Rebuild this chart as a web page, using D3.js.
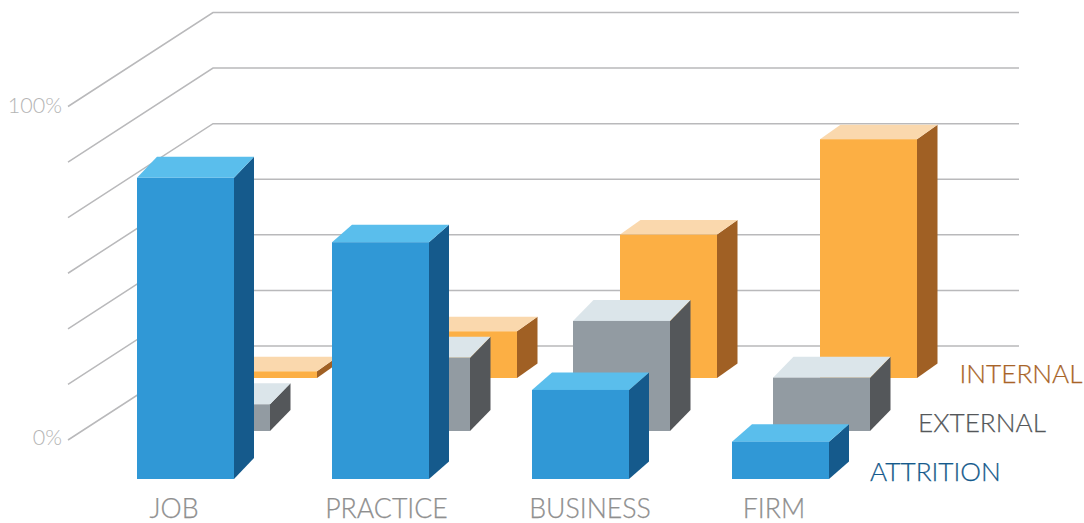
<!DOCTYPE html>
<html>
<head>
<meta charset="utf-8">
<script src="https://cdn.jsdelivr.net/npm/d3@7"></script>
<style>
  html, body { margin: 0; padding: 0; background: #fff; }
  svg { display: block; }
  text { font-family: Lato, "Open Sans", sans-serif; font-weight: 300; }
</style>
</head>
<body>
<svg id="chart" width="1084" height="523"></svg>
<script>
// Share of each kind of move, by category (percent)
const categories = ["JOB", "PRACTICE", "BUSINESS", "FIRM"];
const attrition = [90.3, 71, 26.7, 11.2];
const external = [8, 22, 33, 16];
const internal = [2, 14, 43, 71.6];
const valueTicks = [0, 100];
const gridCount = 6;

const svg = d3.select("#chart");

// Vertical scale: value to height in pixels
const yScale = d3.scaleLinear().domain([0, 100]).range([0, 333.5]);

// Category placement along the floor
const xScale = d3.scalePoint().domain(categories).range([132, 732]);

// Centre of each category's label under the front row
const labelX = d3.scaleOrdinal().domain(categories).range([174, 386.5, 590, 774]);

// Back wall and side wall of the box
const wall = { baseY: 346, left: 213, right: 1019, sideDx: -145, sideDy: 94 };

// Each series sits on its own row of the floor, deeper rows further right and higher
const rows = [
  { name: "INTERNAL", values: internal, offset: 88, base: 378, depthX: 20.5, depthY: 14.5,
    front: "#fcaf44", top: "#fad8ad", side: "#a06024", label: "#a86428", legendX: 959.5, legendY: 383 },
  { name: "EXTERNAL", values: external, offset: 41, base: 431, depthX: 20.5, depthY: 21,
    front: "#929ba2", top: "#dbe5ea", side: "#54575a", label: "#54575a", legendX: 918, legendY: 432 },
  { name: "ATTRITION", values: attrition, offset: 0, base: 479, depthX: 20, depthY: 17.5,
    front: "#3098d6", top: "#5abeec", side: "#155a8c", label: "#155a8c", legendX: 870, legendY: 481 }
];

const barWidth = 97;

// The front row's first box stands slightly closer to its neighbour and is seen from further back
const firstFrontShift = 5;
const firstFrontDepth = 21;
const isFirstFront = (row, i) => row.name === "ATTRITION" && i === 0;

// Grid lines running along the back wall and down the side wall
const grid = svg.append("g").attr("stroke", "#b9b9bb").attr("stroke-width", 1.5).attr("fill", "none");
d3.range(gridCount + 1).forEach(i => {
  const y = wall.baseY - yScale(i * 100 / gridCount);
  grid.append("path").attr("d", d3.line()([
    [wall.left + wall.sideDx, y + wall.sideDy],
    [wall.left, y],
    [wall.right, y]
  ]));
});

// Value labels beside the side wall
svg.append("g").selectAll("text").data(valueTicks).join("text")
  .attr("x", 62)
  .attr("y", d => wall.baseY + wall.sideDy - yScale(d) + (d === 0 ? 5 : 6))
  .attr("text-anchor", "end")
  .attr("font-size", 21.5)
  .attr("fill", "#b4b4b4")
  .text(d => d + "%");

// Boxes, back row first so nearer rows overlap them
const poly = pts => d3.line()(pts) + "Z";
rows.forEach(row => {
  const g = svg.append("g");
  categories.forEach((cat, i) => {
    const x0 = xScale(cat) + row.offset + (isFirstFront(row, i) ? firstFrontShift : 0);
    const x1 = x0 + barWidth;
    const yb = row.base, yt = yb - yScale(row.values[i]);
    const dx = row.depthX;
    const dy = isFirstFront(row, i) ? firstFrontDepth : row.depthY;
    g.append("path").attr("fill", row.side)
      .attr("d", poly([[x1, yt], [x1 + dx, yt - dy], [x1 + dx, yb - dy], [x1, yb]]));
    g.append("path").attr("fill", row.top)
      .attr("d", poly([[x0, yt], [x0 + dx, yt - dy], [x1 + dx, yt - dy], [x1, yt]]));
    g.append("rect").attr("x", x0).attr("y", yt).attr("width", barWidth).attr("height", yb - yt)
      .attr("fill", row.front);
  });
});

// Category labels
svg.append("g").selectAll("text").data(categories).join("text")
  .attr("x", d => labelX(d))
  .attr("y", 517.5)
  .attr("text-anchor", "middle")
  .attr("font-size", 26.7)
  .attr("fill", "#8f8f8f")
  .attr("stroke", "#8f8f8f")
  .attr("stroke-width", 0.25)
  .text(d => d);

// Series labels at the end of each row
svg.append("g").selectAll("text").data(rows).join("text")
  .attr("x", d => d.legendX)
  .attr("y", d => d.legendY)
  .attr("font-size", 26.2)
  .attr("fill", d => d.label)
  .attr("stroke", d => d.label)
  .attr("stroke-width", 0.25)
  .text(d => d.name);
</script>
</body>
</html>
